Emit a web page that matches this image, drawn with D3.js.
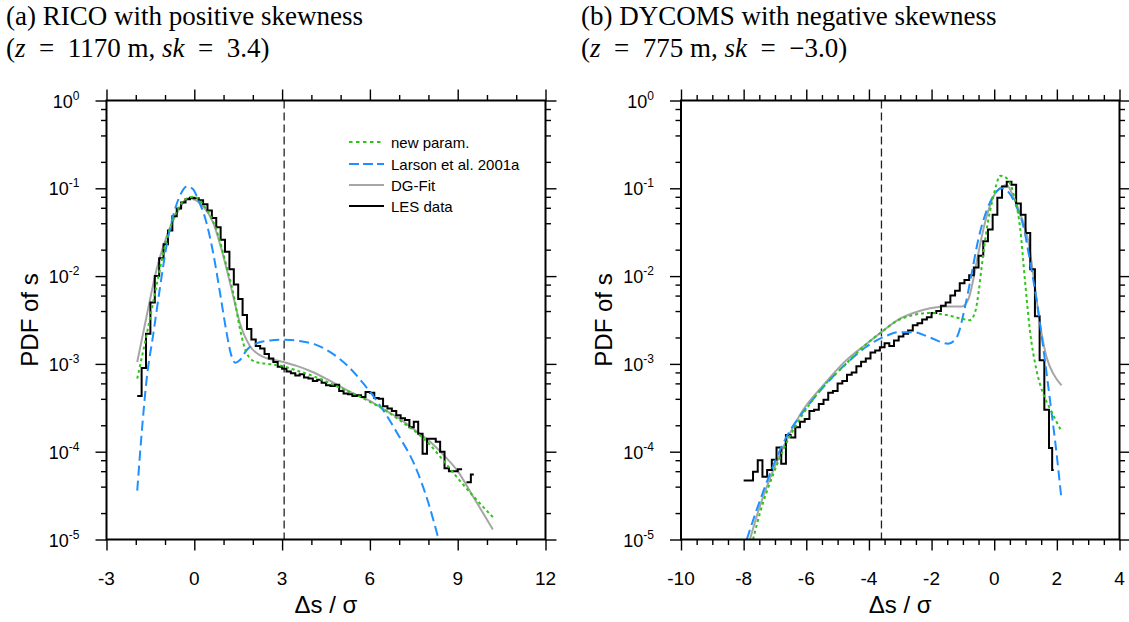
<!DOCTYPE html>
<html><head><meta charset="utf-8">
<script src="https://cdnjs.cloudflare.com/ajax/libs/d3/7.8.5/d3.min.js"></script>
<style>body{margin:0;background:#fff}</style>
</head><body>
<svg id="c" width="1129" height="622"></svg>
<script>
// ---------------- data ----------------
const yExps = [0, -1, -2, -3, -4, -5];
const yMinorMult = [2, 4, 6, 8];
const xTicksA = [-3, 0, 3, 6, 9, 12];
const xMinorA = [-2, -1, 1, 2, 4, 5, 7, 8, 10, 11];
const xTicksB = [-10, -8, -6, -4, -2, 0, 2, 4];
const xMinorB = [-9.5, -9, -8.5, -7.5, -7, -6.5, -5.5, -5, -4.5, -3.5, -3, -2.5, -1.5, -1, -0.5, 0.5, 1, 1.5, 2.5, 3, 3.5];
const vlineA = 3.07;
const vlineB = -3.6;

// Panel (a) RICO - LES histogram (bin left edges, values)
const aLesX = [-1.95,-1.8,-1.65,-1.5,-1.35,-1.2,-1.05,-0.9,-0.75,-0.6,-0.45,-0.3,-0.15,0,0.15,0.3,0.45,0.6,0.75,0.9,1.05,1.2,1.35,1.5,1.65,1.8,1.95,2.1,2.25,2.4,2.55,2.7,2.85,3,3.15,3.3,3.45,3.6,3.75,3.9,4.05,4.2,4.35,4.5,4.65,4.8,4.95,5.1,5.25,5.4,5.55,5.7,5.85,6,6.15,6.3,6.45,6.6,6.75,6.9,7.05,7.2,7.35,7.5,7.65,7.8,7.95,8.1,8.25,8.4,8.55,8.7,8.85,9,9.15,9.3,9.45];
const aLesEnd = 9.55;
const aLesY = [4.3e-4,9e-4,2.2e-3,5e-3,1.0e-2,1.6e-2,2.3e-2,3.3e-2,4.8e-2,5.9e-2,6.9e-2,7.5e-2,7.8e-2,7.7e-2,7.3e-2,6.6e-2,5.6e-2,4.6e-2,3.6e-2,2.6e-2,1.9e-2,1.2e-2,8.0e-3,5.5e-3,3.6e-3,2.5e-3,1.9e-3,1.6e-3,1.5e-3,1.3e-3,1.15e-3,1.05e-3,9.3e-4,8.8e-4,8.2e-4,7.8e-4,7.4e-4,7.6e-4,7.0e-4,6.8e-4,6.4e-4,6.6e-4,6.1e-4,5.7e-4,5.6e-4,5.8e-4,4.9e-4,4.6e-4,4.5e-4,4.3e-4,4.4e-4,4.2e-4,4.8e-4,4.7e-4,4.1e-4,4.0e-4,3.3e-4,3.1e-4,2.9e-4,2.6e-4,2.4e-4,2.3e-4,1.9e-4,2.2e-4,1.6e-4,9.5e-5,1.4e-4,1.4e-4,1.3e-4,1.0e-4,6.5e-5,6.0e-5,6.0e-5,6.3e-5,null,4.5e-5,5.5e-5];

// Panel (a) new param.
const aNewX = [-1.95,-1.6,-1.3,-0.95,-0.6,-0.3,0,0.35,0.75,1.1,1.35,1.55,1.8,2.1,2.5,3.0,3.5,4.0,4.5,5.0,5.5,6.0,6.5,7.0,7.5,8.0,8.5,9.0,9.5,10.2];
const aNewY = [6.8e-4,2.4e-3,7.5e-3,2.6e-2,5.4e-2,7.5e-2,8.0e-2,6.2e-2,3.4e-2,1.3e-2,6e-3,2.6e-3,1.3e-3,1.05e-3,1.0e-3,9.5e-4,8.4e-4,7.4e-4,6.3e-4,5.3e-4,4.5e-4,3.7e-4,3.0e-4,2.3e-4,1.75e-4,1.25e-4,8.0e-5,5.0e-5,3.2e-5,1.8e-5];

// Panel (a) Larson et al. 2001a
const aLarX = [-1.95,-1.8,-1.63,-1.4,-1.17,-0.94,-0.72,-0.45,-0.25,-0.05,0.15,0.37,0.65,0.88,1.1,1.25,1.4,1.55,1.8,2.2,2.6,3.0,3.3,3.7,4.1,4.66,5.24,5.81,6.39,6.97,7.54,8.0,8.35];
const aLarY = [3.6e-5,1.6e-4,6.6e-4,2.2e-3,7.5e-3,2.3e-2,4.9e-2,8.8e-2,1.05e-1,9.8e-2,7.2e-2,4.6e-2,1.8e-2,6.4e-3,2.3e-3,1.3e-3,1.03e-3,1.1e-3,1.45e-3,1.75e-3,1.85e-3,1.88e-3,1.87e-3,1.8e-3,1.68e-3,1.35e-3,9.5e-4,5.8e-4,3.2e-4,1.55e-4,6.9e-5,2.6e-5,1.0e-5];

// Panel (a) DG-Fit
const aDgX = [-1.95,-1.6,-1.3,-0.95,-0.6,-0.2,0.2,0.65,1.0,1.33,1.56,1.9,2.36,3.0,3.5,4.0,4.5,5.0,5.5,6.0,6.5,7.0,7.5,8.0,8.5,9.0,9.5,10.2];
const aDgY = [1.05e-3,3.9e-3,1.15e-2,2.8e-2,5.2e-2,7.7e-2,6.7e-2,4.0e-2,1.65e-2,5.9e-3,2.9e-3,1.6e-3,1.2e-3,1.06e-3,9.5e-4,8.2e-4,6.8e-4,5.5e-4,4.5e-4,3.8e-4,3.0e-4,2.4e-4,1.8e-4,1.35e-4,9.3e-5,6.0e-5,3.2e-5,1.3e-5];

// Panel (b) DYCOMS - LES histogram
const bLesX = [-8,-7.85,-7.7,-7.55,-7.4,-7.25,-7.1,-6.95,-6.8,-6.65,-6.5,-6.35,-6.2,-6.05,-5.9,-5.75,-5.6,-5.45,-5.3,-5.15,-5,-4.85,-4.7,-4.55,-4.4,-4.25,-4.1,-3.95,-3.8,-3.65,-3.5,-3.35,-3.2,-3.05,-2.9,-2.75,-2.6,-2.45,-2.3,-2.15,-2,-1.85,-1.7,-1.55,-1.4,-1.25,-1.1,-0.95,-0.8,-0.65,-0.5,-0.35,-0.2,-0.05,0.1,0.25,0.4,0.55,0.7,0.85,1,1.15,1.3,1.45,1.6,1.75,1.85];
const bLesEnd = 1.9;
const bLesY = [4.7e-5,4.7e-5,5.9e-5,8.0e-5,5.2e-5,6.2e-5,8.1e-5,1.12e-4,7.3e-5,1.55e-4,1.45e-4,1.9e-4,2.2e-4,2.35e-4,2.9e-4,3.0e-4,3.5e-4,3.9e-4,4.7e-4,4.9e-4,6.0e-4,6.4e-4,7.5e-4,8.0e-4,9.4e-4,1.06e-3,1.15e-3,1.35e-3,1.42e-3,1.55e-3,1.72e-3,1.6e-3,1.85e-3,2.05e-3,2.2e-3,2.4e-3,2.75e-3,2.9e-3,3.2e-3,3.4e-3,3.8e-3,4.0e-3,4.6e-3,5.0e-3,6.0e-3,6.8e-3,8.3e-3,9.0e-3,1.02e-2,1.25e-2,1.7e-2,2.5e-2,3.4e-2,5.0e-2,7.8e-2,1.05e-1,1.19e-1,1.1e-1,6.7e-2,5.0e-2,3.1e-2,1.2e-2,3.5e-3,1.1e-3,3.0e-4,1.1e-4,6.2e-5];

// Panel (b) new param.
const bNewX = [-7.7,-7.48,-7.05,-6.63,-6.1,-5.46,-4.82,-4.07,-3.6,-3.1,-2.58,-2.05,-1.52,-1.0,-0.78,-0.6,-0.5,-0.4,-0.24,-0.03,0.2,0.4,0.61,0.82,0.98,1.14,1.35,1.56,1.78,2.15];
const bNewY = [1.0e-5,2.0e-5,5.6e-5,1.26e-4,2.7e-4,5.5e-4,9.3e-4,1.7e-3,2.3e-3,3.1e-3,3.6e-3,3.8e-3,3.6e-3,3.25e-3,3.15e-3,4.0e-3,6.5e-3,1.28e-2,3.4e-2,8.0e-2,1.39e-1,1.3e-1,8.8e-2,3.7e-2,9.1e-3,2.4e-3,8.5e-4,4.6e-4,3.1e-4,1.7e-4];

// Panel (b) Larson et al. 2001a
const bLarX = [-7.9,-7.58,-7.16,-6.63,-5.99,-5.35,-4.71,-4.07,-3.43,-3.06,-2.58,-2.05,-1.47,-1.2,-0.93,-0.72,-0.51,-0.24,0.02,0.24,0.45,0.71,0.93,1.14,1.35,1.56,1.78,1.99,2.15];
const bLarY = [1.0e-5,2.2e-5,5.6e-5,1.48e-4,3.2e-4,6.0e-4,1.02e-3,1.58e-3,2.1e-3,2.3e-3,2.3e-3,2.0e-3,1.7e-3,2.0e-3,4.5e-3,1.07e-2,2.6e-2,5.6e-2,8.7e-2,1.0e-1,9.1e-2,6.2e-2,3.7e-2,1.5e-2,5.4e-3,1.58e-3,3.9e-4,9.6e-5,2.8e-5];

// Panel (b) DG-Fit
const bDgX = [-7.8,-7.48,-7.05,-6.63,-6.1,-5.46,-4.82,-4.07,-3.6,-3.06,-2.58,-2.05,-1.52,-1.04,-0.83,-0.67,-0.51,-0.3,-0.03,0.24,0.4,0.61,0.82,1.08,1.3,1.46,1.67,1.88,2.15];
const bDgY = [1.0e-5,2.4e-5,6.2e-5,1.35e-4,3.0e-4,5.7e-4,1.02e-3,1.7e-3,2.3e-3,3.2e-3,3.8e-3,4.3e-3,4.5e-3,4.5e-3,5.4e-3,9.1e-3,1.8e-2,4.0e-2,8.0e-2,1.04e-1,1.09e-1,8.0e-2,5.2e-2,2.6e-2,7.6e-3,2.9e-3,1.2e-3,7.8e-4,5.7e-4];

const legendLabels = ["new param.", "Larson et al. 2001a", "DG-Fit", "LES data"];

// ---------------- styles ----------------
const COL = {new: "#2ec41a", lar: "#1e90ff", dg: "#a6a6a6", les: "#000000"};
const SANS = "'Liberation Sans', Arial, Helvetica, sans-serif";
const SERIF = "'Liberation Serif', 'Times New Roman', serif";
const T = 100.5, B = 539.5;

const svg = d3.select("#c");
svg.append("rect").attr("width", 1129).attr("height", 622).attr("fill", "#fff");

function stepPoints(edges, vals, end) {
  const pts = [];
  for (let i = 0; i < vals.length; i++) {
    const x0 = edges[i], x1 = i + 1 < edges.length ? edges[i + 1] : end;
    if (vals[i] == null) { pts.push(null); continue; }
    pts.push([x0, vals[i]], [x1, vals[i]]);
  }
  return pts;
}

function drawPanel(p) {
  const g = svg.append("g");
  const x = d3.scaleLinear().domain(p.xDom).range([p.L, p.R]);
  const y = d3.scaleLog().domain([1e-5, 1]).range([B, T]);
  const yMajor = yExps.map(e => Math.pow(10, e));
  const yMinor = [];
  yExps.slice(1).forEach(e => yMinorMult.forEach(m => yMinor.push(m * Math.pow(10, e))));

  const clipId = "clip" + p.id;
  g.append("clipPath").attr("id", clipId).append("rect")
    .attr("x", p.L).attr("y", T).attr("width", p.R - p.L).attr("height", B - T);

  // dashed reference line
  g.append("line").attr("x1", x(p.vline)).attr("x2", x(p.vline)).attr("y1", T).attr("y2", B)
    .attr("stroke", "#222").attr("stroke-width", 1.3).attr("stroke-dasharray", "8,4");

  const curves = g.append("g").attr("clip-path", `url(#${clipId})`).attr("fill", "none");
  const line = d3.line().x(d => x(d[0])).y(d => y(d[1])).curve(d3.curveMonotoneX);
  const stepLine = d3.line().defined(d => d != null).x(d => x(d[0])).y(d => y(d[1]));

  curves.append("path").attr("d", line(d3.zip(p.dgX, p.dgY)))
    .attr("stroke", COL.dg).attr("stroke-width", 2);
  curves.append("path").attr("d", stepLine(stepPoints(p.lesX, p.lesY, p.lesEnd)))
    .attr("stroke", COL.les).attr("stroke-width", 2).attr("stroke-linejoin", "miter");
  curves.append("path").attr("d", line(d3.zip(p.larX, p.larY)))
    .attr("stroke", COL.lar).attr("stroke-width", 2).attr("stroke-dasharray", "10,5");
  curves.append("path").attr("d", line(d3.zip(p.newX, p.newY)))
    .attr("stroke", COL.new).attr("stroke-width", 2).attr("stroke-dasharray", "3,3");

  // axes (ticks outward on all four sides)
  const axStyle = sel => {
    sel.select(".domain").remove();
    sel.selectAll(".tick line").attr("stroke", "#000").attr("stroke-width", 1.4);
  };
  const MAJ = 11, MIN = 5.5;
  g.append("g").attr("transform", `translate(0,${B})`)
    .call(d3.axisBottom(x).tickValues(p.xMajor).tickSize(MAJ).tickFormat("")).call(axStyle);
  g.append("g").attr("transform", `translate(0,${B})`)
    .call(d3.axisBottom(x).tickValues(p.xMinor).tickSize(MIN).tickFormat("")).call(axStyle);
  g.append("g").attr("transform", `translate(0,${T})`)
    .call(d3.axisTop(x).tickValues(p.xMajor).tickSize(MAJ).tickFormat("")).call(axStyle);
  g.append("g").attr("transform", `translate(0,${T})`)
    .call(d3.axisTop(x).tickValues(p.xMinor).tickSize(MIN).tickFormat("")).call(axStyle);
  g.append("g").attr("transform", `translate(${p.L},0)`)
    .call(d3.axisLeft(y).tickValues(yMajor).tickSize(MAJ).tickFormat("")).call(axStyle);
  g.append("g").attr("transform", `translate(${p.L},0)`)
    .call(d3.axisLeft(y).tickValues(yMinor).tickSize(MIN).tickFormat("")).call(axStyle);
  g.append("g").attr("transform", `translate(${p.R},0)`)
    .call(d3.axisRight(y).tickValues(yMajor).tickSize(MAJ).tickFormat("")).call(axStyle);
  g.append("g").attr("transform", `translate(${p.R},0)`)
    .call(d3.axisRight(y).tickValues(yMinor).tickSize(MIN).tickFormat("")).call(axStyle);

  // frame
  g.append("rect").attr("x", p.L).attr("y", T).attr("width", p.R - p.L).attr("height", B - T)
    .attr("fill", "none").attr("stroke", "#000").attr("stroke-width", 2);

  // x tick labels
  g.append("g").selectAll("text").data(p.xMajor).join("text")
    .attr("x", d => x(d)).attr("y", 585).attr("text-anchor", "middle")
    .attr("font-family", SANS).attr("font-size", 19).attr("fill", "#000")
    .text(d => String(d));

  // y tick labels 10^n
  const yl = g.append("g").selectAll("text").data(yExps).join("text")
    .attr("x", p.L - 27).attr("y", d => y(Math.pow(10, d)) + 7).attr("text-anchor", "end")
    .attr("font-family", SANS).attr("font-size", 18).attr("fill", "#000");
  yl.append("tspan").text("10");
  yl.append("tspan").attr("dy", -8).attr("font-size", 12).text(d => String(d));

  // axis titles
  g.append("text").attr("transform", `translate(${p.L - 69},${(T + B) / 2}) rotate(-90)`)
    .attr("text-anchor", "middle").attr("font-family", SANS).attr("font-size", 24).text("PDF of s");
  g.append("text").attr("x", (p.L + p.R) / 2).attr("y", 613).attr("text-anchor", "middle")
    .attr("font-family", SANS).attr("font-size", 24).text("\u0394s / \u03c3");

  // panel title (two lines)
  g.append("text").attr("x", p.titleX).attr("y", 25)
    .attr("font-family", SERIF).attr("font-size", 27).text(p.title1);
  const t2 = g.append("text").attr("x", p.titleX).attr("y", 57)
    .attr("font-family", SERIF).attr("font-size", 27);
  t2.append("tspan").text("(");
  t2.append("tspan").attr("font-style", "italic").text("z");
  t2.append("tspan").text("\u2002=\u2002" + p.z + " m, ");
  t2.append("tspan").attr("font-style", "italic").text("sk");
  t2.append("tspan").text("\u2002=\u2002" + p.sk + ")");

  return {g, x, y};
}

const A = drawPanel({
  id: "a", L: 106.5, R: 545.5, xDom: [-3, 12], xMajor: xTicksA, xMinor: xMinorA, vline: vlineA,
  lesX: aLesX, lesY: aLesY, lesEnd: aLesEnd, newX: aNewX, newY: aNewY, larX: aLarX, larY: aLarY, dgX: aDgX, dgY: aDgY,
  titleX: 6, title1: "(a) RICO with positive skewness", z: "1170", sk: "3.4"
});
const Bp = drawPanel({
  id: "b", L: 681, R: 1119.5, xDom: [-10, 4], xMajor: xTicksB, xMinor: xMinorB, vline: vlineB,
  lesX: bLesX, lesY: bLesY, lesEnd: bLesEnd, newX: bNewX, newY: bNewY, larX: bLarX, larY: bLarY, dgX: bDgX, dgY: bDgY,
  titleX: 581, title1: "(b) DYCOMS with negative skewness", z: "775", sk: "\u22123.0"
});

// legend (panel a)
const legStyles = [
  {c: COL.new, dash: "3.5,3.5"}, {c: COL.lar, dash: "10,4"}, {c: COL.dg, dash: null}, {c: COL.les, dash: null}
];
const legY = [142, 164, 185, 206];
const leg = svg.append("g");
legendLabels.forEach((lab, i) => {
  leg.append("line").attr("x1", 349).attr("x2", 384).attr("y1", legY[i]).attr("y2", legY[i])
    .attr("stroke", legStyles[i].c).attr("stroke-width", 2)
    .attr("stroke-dasharray", legStyles[i].dash);
  leg.append("text").attr("x", 391).attr("y", legY[i] + 5.5).attr("font-family", SANS)
    .attr("font-size", 15).text(lab);
});
</script>
</body></html>
